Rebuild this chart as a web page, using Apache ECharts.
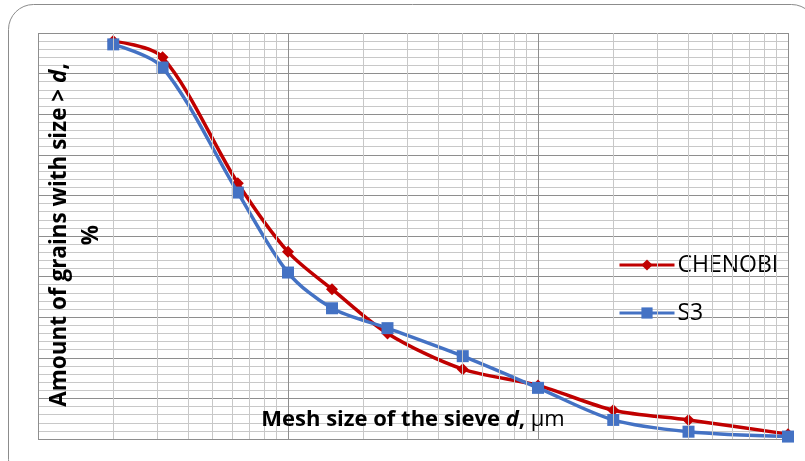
<!DOCTYPE html>
<html>
<head>
<meta charset="utf-8">
<script src="https://cdn.jsdelivr.net/npm/echarts@6/dist/echarts.min.js"></script>
<style>
  html, body { margin: 0; padding: 0; background: #fff; }
  #chart { width: 805px; height: 461px; }
</style>
</head>
<body>
<div id="chart"></div>
<script>
// mesh size of the sieve d, um (log axis)
var meshSizes = [2, 3.15, 6.3, 10, 15, 25, 50, 100, 200, 400, 1000];
// amount of grains with size > d, %
var chenobi = [98, 94, 63, 46.1, 36.9, 26, 17.2, 13.2, 7.1, 4.7, 1.2];
var s3 = [97.2, 91.5, 60.7, 41, 32.2, 27.3, 20.4, 12.6, 4.7, 1.8, 0.6];
// light vertical lines between the decades
var minorMesh = [2, 3, 4, 5, 6, 7, 8, 9, 20, 30, 40, 50, 60, 70, 80, 90, 200, 300, 400, 500, 600, 700, 800, 900];

var pairs = function (xs, ys) {
    var out = [];
    for (var i = 0; i < xs.length; i++) {
        out.push([xs[i], ys[i]]);
    }
    return out;
};

var chart = echarts.init(document.getElementById('chart'));

var majorColor = '#8e8e8e';
var minorColor = '#c8c8c8';
var textFont = '"Open Sans", "Liberation Sans", sans-serif';

var minorLines = [];
for (var i = 0; i < minorMesh.length; i++) {
    minorLines.push({xAxis: minorMesh[i]});
}

var option = {
    animation: false,
    backgroundColor: '#fff',
    grid: {
        left: 38,
        right: 17,
        top: 33,
        bottom: 22
    },
    xAxis: {
        type: 'log',
        logBase: 10,
        min: 1,
        max: 1000,
        axisLine: {show: false},
        axisTick: {show: false},
        axisLabel: {show: false},
        splitLine: {show: true, lineStyle: {color: majorColor, width: 1}}
    },
    yAxis: {
        type: 'value',
        min: 0,
        max: 100,
        interval: 10,
        axisLine: {show: false},
        axisTick: {show: false},
        axisLabel: {show: false},
        minorTick: {show: false, splitNumber: 5},
        splitLine: {show: true, lineStyle: {color: majorColor, width: 1}},
        minorSplitLine: {show: true, lineStyle: {color: minorColor, width: 1}}
    },
    legend: {
        data: ['CHENOBI', 'S3'],
        orient: 'vertical',
        left: 613,
        top: 247,
        itemWidth: 55,
        itemHeight: 14,
        itemGap: 22,
        lineStyle: {width: 3},
        textStyle: {
            fontFamily: textFont,
            fontSize: 23,
            lineHeight: 26,
            color: '#000',
            padding: [0, 0, 0, -2]
        }
    },
    graphic: [
        {
            type: 'rect',
            silent: true,
            shape: {x: 8.5, y: 4.5, width: 808, height: 480, r: 25},
            style: {fill: 'none', stroke: '#8c8c8c', lineWidth: 1}
        },
        {
            type: 'text',
            x: 76,
            y: 235,
            rotation: Math.PI / 2,
            z: 10,
            style: {
                text: '{b|Amount of grains with size > }{bi|d}{b|,}\n{b|%}',
                align: 'center',
                verticalAlign: 'middle',
                rich: {
                    b: {fontFamily: textFont, fontSize: 22.5, fontWeight: 'bold', color: '#000', lineHeight: 32, align: 'center'},
                    bi: {fontFamily: textFont, fontSize: 22.5, fontWeight: 'bold', fontStyle: 'italic', color: '#000', lineHeight: 32}
                }
            }
        },
        {
            type: 'text',
            x: 413,
            y: 420,
            z: 10,
            style: {
                text: '{b|Mesh size of the sieve }{bi|d}{b|, }{r|\u00b5m}',
                align: 'center',
                verticalAlign: 'middle',
                rich: {
                    b: {fontFamily: textFont, fontSize: 22, fontWeight: 'bold', color: '#000'},
                    bi: {fontFamily: textFont, fontSize: 22, fontWeight: 'bold', fontStyle: 'italic', color: '#000'},
                    r: {fontFamily: textFont, fontSize: 22, color: '#000'}
                }
            }
        }
    ],
    series: [
        {
            name: 'grid-minor',
            type: 'line',
            data: [],
            z: 1,
            silent: true,
            markLine: {
                silent: true,
                symbol: ['none', 'none'],
                label: {show: false},
                lineStyle: {color: minorColor, width: 1, type: 'solid'},
                data: minorLines
            }
        },
        {
            name: 'CHENOBI',
            type: 'line',
            z: 3,
            smooth: 0.3,
            data: pairs(meshSizes, chenobi),
            symbol: 'diamond',
            symbolSize: 12,
            showAllSymbol: true,
            lineStyle: {color: '#C00000', width: 3.5},
            itemStyle: {color: '#C00000'}
        },
        {
            name: 'S3',
            type: 'line',
            z: 4,
            smooth: 0.3,
            data: pairs(meshSizes, s3),
            symbol: 'rect',
            symbolSize: 12,
            showAllSymbol: true,
            lineStyle: {color: '#4472C4', width: 3.5},
            itemStyle: {color: '#4472C4'}
        }
    ]
};

chart.setOption(option);
</script>
</body>
</html>
